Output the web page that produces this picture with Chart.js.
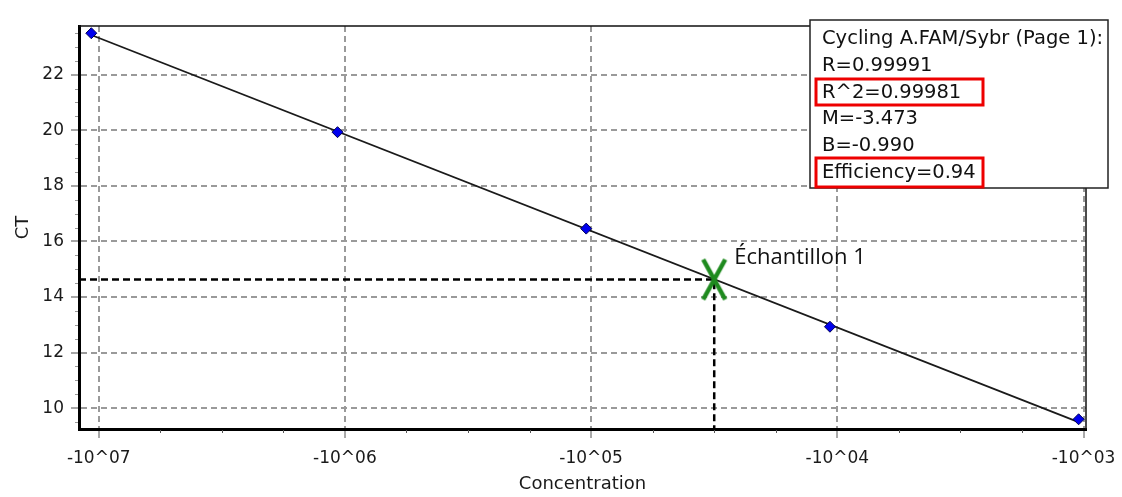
<!DOCTYPE html>
<html>
<head>
<meta charset="utf-8">
<script src="https://cdn.jsdelivr.net/npm/chart.js@4/dist/chart.umd.min.js"></script>
<style>
  html, body { margin: 0; padding: 0; background: #fff; }
  #wrap { width: 1122px; height: 497px; }
</style>
</head>
<body>
<div id="wrap"><canvas id="c" width="1122" height="497"></canvas></div>
<script>
// Standard curve: log10 concentration (shown as -10^0n) against threshold cycle
const logConc = [-7.03, -6.03, -5.02, -4.03, -3.02];
const ctValues = [23.49, 19.93, 16.46, 12.93, 9.60];

// Regression results reported by the cycler software
const fitTitle = 'Cycling A.FAM/Sybr (Page 1):';
const fitR = '0.99991';
const fitR2 = '0.99981';
const fitM = -3.473;
const fitB = -0.990;
const fitEfficiency = '0.94';

// Unknown sample
const sampleName = 'Échantillon 1';
const sampleLog = -4.50;
const sampleCt = 14.63;

// Axis ranges and tick steps
const xMin = -7.08, xMax = -2.99, xStep = 1, xMinorStep = 0.25;
const yMin = 9.25, yMax = 23.75, yStep = 2, yMinorStep = 0.5;

const fitLine = [logConc[0], logConc[logConc.length - 1]].map(x => ({ x, y: fitM * x + fitB }));
const points = logConc.map((x, i) => ({ x, y: ctValues[i] }));
const guide = [{ x: xMin, y: sampleCt }, { x: sampleLog, y: sampleCt }, { x: sampleLog, y: yMin }];

// Green cross used as the sample marker
const cross = document.createElement('canvas');
cross.width = 28; cross.height = 44;
(function () {
  const g = cross.getContext('2d');
  g.strokeStyle = '#1e8a1e';
  g.lineWidth = 4.5;
  g.lineCap = 'butt';
  g.beginPath();
  g.moveTo(3, 2); g.lineTo(25, 42);
  g.moveTo(25, 2); g.lineTo(3, 42);
  g.stroke();
})();

const TICK_FONT = { family: 'DejaVu Sans', size: 17 };
const TITLE_FONT = { family: 'DejaVu Sans', size: 18 };

const decor = {
  id: 'decor',
  afterDraw(chart) {
    const { ctx, chartArea: a, scales: { x, y } } = chart;
    ctx.save();
    // minor ticks along the bottom axis
    ctx.strokeStyle = '#555';
    ctx.lineWidth = 1;
    ctx.beginPath();
    for (let v = Math.ceil(xMin / xMinorStep) * xMinorStep; v <= xMax + 1e-9; v += xMinorStep) {
      if (Math.abs(v - Math.round(v)) < 1e-6) continue;
      const px = Math.round(x.getPixelForValue(v)) + 0.5;
      ctx.moveTo(px, a.bottom + 1); ctx.lineTo(px, a.bottom + 4);
    }
    ctx.stroke();
    // minor ticks along the left axis
    ctx.strokeStyle = '#999';
    ctx.beginPath();
    for (let v = Math.ceil(yMin / yMinorStep) * yMinorStep; v <= yMax + 1e-9; v += yMinorStep) {
      if (Math.abs(v / yStep - Math.round(v / yStep)) < 1e-6) continue;
      const py = Math.round(y.getPixelForValue(v)) + 0.5;
      ctx.moveTo(a.left - 4, py); ctx.lineTo(a.left - 1, py);
    }
    ctx.stroke();
    // top and right frame
    ctx.strokeStyle = '#111';
    ctx.lineWidth = 1.5;
    ctx.beginPath();
    ctx.moveTo(a.left, a.top); ctx.lineTo(a.right, a.top); ctx.lineTo(a.right, a.bottom);
    ctx.stroke();

    // sample label
    const sx = x.getPixelForValue(sampleLog), sy = y.getPixelForValue(sampleCt);
    ctx.fillStyle = '#111';
    ctx.font = '22px "Open Sans"';
    ctx.textAlign = 'left';
    ctx.textBaseline = 'alphabetic';
    ctx.fillText(sampleName, sx + 20, sy - 15);

    // regression summary box
    const bx = 810, by = 20, bw = 298, bh = 168;
    ctx.fillStyle = '#fff';
    ctx.fillRect(bx, by, bw, bh);
    ctx.strokeStyle = '#222';
    ctx.lineWidth = 1.5;
    ctx.strokeRect(bx, by, bw, bh);
    const lines = [
      fitTitle,
      'R=' + fitR,
      'R^2=' + fitR2,
      'M=' + fitM.toFixed(3),
      'B=' + fitB.toFixed(3),
      'Efficiency=' + fitEfficiency
    ];
    ctx.fillStyle = '#111';
    ctx.font = '19.5px "DejaVu Sans"';
    ctx.textBaseline = 'middle';
    lines.forEach((t, i) => ctx.fillText(t, bx + 12, by + 19 + i * 26.8));
    // highlighted entries
    ctx.strokeStyle = '#ee0000';
    ctx.lineWidth = 3;
    ctx.strokeRect(816, 79, 167, 26);
    ctx.strokeRect(816, 158, 167, 29);
    ctx.restore();
  }
};

new Chart(document.getElementById('c'), {
  data: {
    datasets: [
      {
        type: 'line', data: guide, borderColor: '#000', borderWidth: 2.5,
        borderDash: [7, 4], pointRadius: 0, fill: false, tension: 0, order: 3
      },
      {
        type: 'line', data: fitLine, borderColor: '#1a1a1a', borderWidth: 1.8,
        pointRadius: 0, fill: false, tension: 0, order: 2
      },
      {
        type: 'scatter', data: points, pointStyle: 'rectRot', pointRadius: 5.5,
        backgroundColor: '#0000ee', borderColor: '#000055', borderWidth: 1, order: 1
      },
      {
        type: 'scatter', data: [{ x: sampleLog, y: sampleCt }], pointStyle: cross,
        order: 0
      }
    ]
  },
  options: {
    responsive: false,
    animation: false,
    events: [],
    layout: { padding: { left: 0, top: 26, right: 36, bottom: 0 } },
    plugins: { legend: { display: false }, tooltip: { enabled: false }, title: { display: false } },
    scales: {
      x: {
        type: 'linear', position: 'bottom', min: xMin, max: xMax,
        afterFit(s) { s.height = 68; s.paddingLeft = 0; s.paddingRight = 0; },
        ticks: {
          stepSize: xStep, includeBounds: false, font: TICK_FONT, color: '#1a1a1a',
          padding: 10, maxRotation: 0,
          callback: v => '-10^0' + Math.round(-v)
        },
        grid: { color: '#9a9a9a', lineWidth: 2, tickColor: '#555', tickLength: 9, tickWidth: 1 },
        border: { color: '#000', width: 3, dash: [6, 4] },
        title: { display: true, text: 'Concentration', font: TITLE_FONT, color: '#1a1a1a', padding: { top: 0, bottom: 2 } }
      },
      y: {
        type: 'linear', position: 'left', min: yMin, max: yMax,
        afterFit(s) { s.width = 79; s.paddingTop = 0; s.paddingBottom = 0; },
        ticks: { stepSize: yStep, includeBounds: false, font: TICK_FONT, color: '#1a1a1a', padding: 7 },
        grid: { color: '#9a9a9a', lineWidth: 2, tickColor: '#888', tickLength: 8, tickWidth: 1.5 },
        border: { color: '#000', width: 3, dash: [6, 4] },
        title: { display: true, text: 'CT', font: TITLE_FONT, color: '#1a1a1a', padding: { top: 13, bottom: 0 } }
      }
    }
  },
  plugins: [decor]
});
</script>
</body>
</html>
